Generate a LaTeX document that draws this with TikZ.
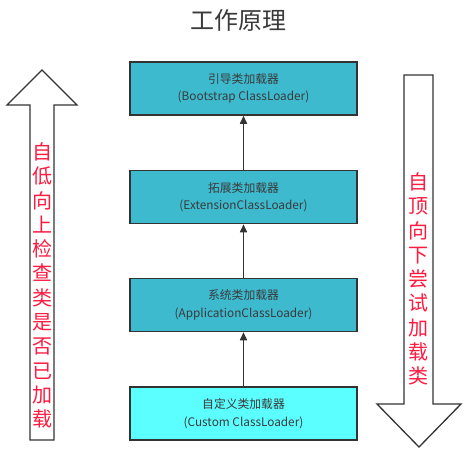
\documentclass[tikz,border=0pt]{standalone}
\usepackage{fontspec}
\setmainfont{Noto Sans CJK SC}
\usetikzlibrary{arrows.meta}
\definecolor{boxfill}{HTML}{3EBACF}
\definecolor{custfill}{HTML}{5CFFFF}
\definecolor{edge}{HTML}{333333}
\definecolor{txt}{HTML}{3A3A3A}
\definecolor{sidered}{HTML}{FF1A40}
\tikzset{
  loader/.style={draw=edge, line width=1.5pt, minimum width=227pt, minimum height=53pt,
    inner sep=0pt, align=center, text=txt, font=\fontsize{11.8}{17.5}\selectfont},
  link/.style={draw=edge, line width=1.6pt, -{Triangle[length=8pt,width=7pt]}},
  bigarrow/.style={draw=edge, line width=1.3pt, fill=white, line join=miter},
  sidetext/.style={text=sidered, align=center, inner sep=0pt}
}
\begin{document}
\begin{tikzpicture}[x=1pt,y=-1pt]
\useasboundingbox (0,0) rectangle (466,459);
\fill[white] (0,0) rectangle (466,459);
\node[text=txt, font=\fontsize{24}{28}\selectfont] (title) at (238,20) {工作原理};
% loader boxes
\node[loader, fill=boxfill] (boot) at (243.5,88.5) {引导类加载器\\(Bootstrap ClassLoader)};
\node[loader, fill=boxfill] (ext) at (243.5,197) {拓展类加载器\\(ExtensionClassLoader)};
\node[loader, fill=boxfill] (app) at (243.5,305) {系统类加载器\\(ApplicationClassLoader)};
\node[loader, fill=custfill] (cust) at (243.5,413.5) {自定义类加载器\\(Custom ClassLoader)};
\draw[link] (cust.north) -- (app.south);
\draw[link] (app.north) -- (ext.south);
\draw[link] (ext.north) -- (boot.south);
% left big arrow (up)
\draw[bigarrow] (42,70) -- (77,105) -- (54,105) -- (54,440) -- (30,440) -- (30,105) -- (7,105) -- cycle;
\node[sidetext, font=\fontsize{20}{24.3}\selectfont] (lefttext) at (42.5,285.5)
  {自\\低\\向\\上\\检\\查\\类\\是\\否\\已\\加\\载};
% right big arrow (down)
\draw[bigarrow] (404,75) -- (433,75) -- (433,404) -- (461,404) -- (419,447) -- (377,404) -- (404,404) -- cycle;
\node[sidetext, font=\fontsize{20}{24.3}\selectfont] (righttext) at (418.5,279)
  {自\\顶\\向\\下\\尝\\试\\加\\载\\类};
\end{tikzpicture}
\end{document}
